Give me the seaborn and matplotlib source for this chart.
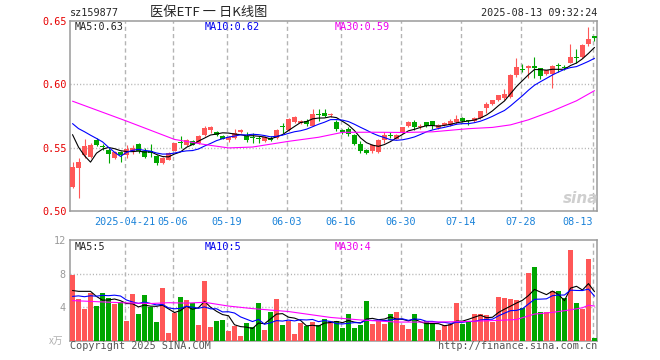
import numpy as np
import pandas as pd
import matplotlib
matplotlib.use('Agg')
import matplotlib.pyplot as plt
import seaborn as sns

# daily candles 2025-04-08 .. 2025-08-13
open_ = [0.5193, 0.5340, 0.5444, 0.5426, 0.5563, 0.5515, 0.5484, 0.5418, 0.5466, 0.5444,
         0.5470, 0.5532, 0.5471, 0.5471, 0.5437, 0.5379, 0.5405, 0.5476, 0.5548, 0.5524,
         0.5550, 0.5537, 0.5600, 0.5643, 0.5624, 0.5590, 0.5560, 0.5577, 0.5621, 0.5590,
         0.5580, 0.5570, 0.5550, 0.5577, 0.5577, 0.5668, 0.5640, 0.5701, 0.5696, 0.5709,
         0.5675, 0.5764, 0.5770, 0.5755, 0.5704, 0.5643, 0.5651, 0.5603, 0.5532, 0.5484,
         0.5476, 0.5463, 0.5563, 0.5597, 0.5569, 0.5621, 0.5669, 0.5701, 0.5665, 0.5701,
         0.5709, 0.5656, 0.5677, 0.5677, 0.5704, 0.5736, 0.5712, 0.5709, 0.5736, 0.5815,
         0.5841, 0.5875, 0.5889, 0.5899, 0.6071, 0.6115, 0.6127, 0.6145, 0.6127, 0.6085,
         0.6079, 0.6147, 0.6135, 0.6172, 0.6214, 0.6212, 0.6317, 0.6383]
high = [0.5390, 0.5418, 0.5569, 0.5537, 0.5575, 0.5530, 0.5497, 0.5470, 0.5475, 0.5520,
        0.5520, 0.5540, 0.5500, 0.5530, 0.5445, 0.5425, 0.5465, 0.5540, 0.5590, 0.5570,
        0.5560, 0.5600, 0.5670, 0.5669, 0.5630, 0.5600, 0.5590, 0.5645, 0.5645, 0.5620,
        0.5617, 0.5590, 0.5590, 0.5590, 0.5650, 0.5696, 0.5735, 0.5750, 0.5720, 0.5730,
        0.5802, 0.5807, 0.5807, 0.5770, 0.5720, 0.5650, 0.5665, 0.5605, 0.5550, 0.5490,
        0.5530, 0.5565, 0.5620, 0.5625, 0.5610, 0.5665, 0.5710, 0.5720, 0.5685, 0.5705,
        0.5712, 0.5690, 0.5700, 0.5725, 0.5755, 0.5740, 0.5715, 0.5745, 0.5790, 0.5860,
        0.5880, 0.5915, 0.5960, 0.6085, 0.6204, 0.6164, 0.6150, 0.6212, 0.6130, 0.6115,
        0.6150, 0.6172, 0.6150, 0.6317, 0.6281, 0.6320, 0.6455, 0.6385]
low = [0.5180, 0.5106, 0.5420, 0.5418, 0.5510, 0.5480, 0.5378, 0.5410, 0.5390, 0.5420,
       0.5450, 0.5460, 0.5420, 0.5430, 0.5360, 0.5370, 0.5400, 0.5470, 0.5498, 0.5515,
       0.5520, 0.5530, 0.5595, 0.5617, 0.5590, 0.5565, 0.5545, 0.5570, 0.5615, 0.5545,
       0.5538, 0.5535, 0.5545, 0.5550, 0.5570, 0.5617, 0.5630, 0.5695, 0.5690, 0.5670,
       0.5670, 0.5709, 0.5745, 0.5740, 0.5630, 0.5610, 0.5595, 0.5520, 0.5455, 0.5450,
       0.5460, 0.5455, 0.5540, 0.5575, 0.5565, 0.5615, 0.5665, 0.5640, 0.5650, 0.5665,
       0.5645, 0.5650, 0.5672, 0.5672, 0.5690, 0.5705, 0.5680, 0.5705, 0.5730, 0.5770,
       0.5835, 0.5870, 0.5880, 0.5895, 0.6060, 0.6094, 0.6053, 0.6053, 0.6042, 0.6075,
       0.5968, 0.6098, 0.6110, 0.6165, 0.6172, 0.6205, 0.6302, 0.6344]
close = [0.5344, 0.5387, 0.5510, 0.5518, 0.5524, 0.5505, 0.5450, 0.5463, 0.5439, 0.5492,
         0.5500, 0.5471, 0.5423, 0.5458, 0.5379, 0.5418, 0.5458, 0.5537, 0.5540, 0.5563,
         0.5524, 0.5595, 0.5656, 0.5661, 0.5603, 0.5571, 0.5585, 0.5617, 0.5637, 0.5558,
         0.5575, 0.5565, 0.5585, 0.5560, 0.5643, 0.5662, 0.5728, 0.5744, 0.5714, 0.5683,
         0.5767, 0.5760, 0.5749, 0.5762, 0.5648, 0.5621, 0.5609, 0.5532, 0.5476, 0.5458,
         0.5524, 0.5563, 0.5603, 0.5593, 0.5603, 0.5661, 0.5706, 0.5661, 0.5670, 0.5669,
         0.5669, 0.5677, 0.5696, 0.5709, 0.5730, 0.5709, 0.5708, 0.5736, 0.5788, 0.5847,
         0.5875, 0.5913, 0.5921, 0.6071, 0.6133, 0.6110, 0.6145, 0.6127, 0.6066, 0.6111,
         0.6145, 0.6143, 0.6131, 0.6212, 0.6210, 0.6312, 0.6357, 0.6365]
# volume in 万手
volume = [7.9, 5.0, 3.8, 5.65, 4.1, 5.7, 5.1, 4.4, 4.65, 2.4,
          5.6, 3.2, 5.5, 4.0, 2.3, 6.3, 1.0, 3.3, 5.2, 4.85,
          4.5, 1.9, 7.15, 1.7, 2.4, 2.55, 1.2, 1.8, 0.6, 2.1,
          1.7, 4.5, 1.35, 3.45, 5.0, 1.95, 2.4, 0.8, 2.1, 1.75,
          2.3, 1.9, 2.6, 2.4, 2.4, 1.6, 3.2, 1.6, 1.9, 4.75,
          2.0, 2.4, 2.0, 3.2, 3.4, 1.9, 1.4, 3.2, 1.4, 2.4,
          2.0, 1.3, 1.95, 2.0, 4.55, 2.0, 2.4, 3.2, 3.2, 3.05,
          2.25, 5.25, 5.15, 5.0, 4.9, 3.9, 8.05, 8.8, 3.4, 3.4,
          6.0, 6.0, 5.15, 10.85, 4.5, 3.8, 9.8, 0.35]

# the 9 sessions before the window, needed for MA5 / MA10 at the left edge
pre_close = [0.578, 0.576, 0.579, 0.578, 0.5775, 0.588, 0.585, 0.577, 0.517]
pre_volume = [4.4, 4.8, 4.5, 4.6, 4.7, 5.5, 3.8, 5.65, 7.15]

# MA30 lines read as points (bar index, value)
ma30_idx = [0, 9, 17, 22, 26, 30, 36, 41, 45, 50, 55, 60, 66, 70, 73, 76, 80, 84, 87]
ma30_price = [0.5867, 0.571, 0.5565, 0.5525, 0.5498, 0.5505, 0.555, 0.5582, 0.5621, 0.5622,
              0.562, 0.5625, 0.565, 0.566, 0.568, 0.572, 0.579, 0.587, 0.595]
vol_ma30_idx = [0, 8, 13, 16, 19, 22, 26, 30, 36, 41, 43, 48, 54, 60, 65, 71, 74, 77, 80, 83, 85, 86, 87]
vol_ma30 = [4.8, 4.55, 4.45, 4.55, 4.5, 4.6, 4.15, 3.85, 3.5, 3.0, 2.8, 2.5, 2.25, 2.25, 2.3,
            2.45, 2.55, 3.2, 3.4, 3.7, 3.95, 4.25, 4.15]

holidays = ['2025-05-01', '2025-05-02', '2025-05-05', '2025-06-02']
tick_dates = ['2025-04-21', '2025-05-06', '2025-05-19', '2025-06-03', '2025-06-16',
              '2025-06-30', '2025-07-14', '2025-07-28', '2025-08-13']
tick_labels = ['2025-04-21', '05-06', '05-19', '06-03', '06-16', '06-30', '07-14', '07-28', '08-13']

RED = '#ff5757'
GREEN = '#00a600'
GRID = '#b4b4b4'

sns.set_style('white')
plt.rcParams['font.family'] = ['DejaVu Sans Mono', 'Noto Sans CJK SC']
plt.rcParams['lines.scale_dashes'] = False

days = pd.bdate_range('2025-04-08', '2025-08-13')
days = days[~days.isin(pd.to_datetime(holidays))]
df = pd.DataFrame({'date': days, 'open': open_, 'high': high, 'low': low,
                   'close': close, 'volume': volume})
df['idx'] = np.arange(len(df))
df['dir'] = np.where(df['close'] >= df['open'], 'up', 'down')
palette = {'up': RED, 'down': GREEN}
colors = df['dir'].map(palette)

n_pre = len(pre_close)
all_close = pd.Series(pre_close + close)
all_vol = pd.Series(pre_volume + volume)
ma5 = all_close.rolling(5).mean().iloc[n_pre:].to_numpy()
ma10 = all_close.rolling(10).mean().iloc[n_pre:].to_numpy()
vma5 = all_vol.rolling(5).mean().iloc[n_pre:].to_numpy()
vma10 = all_vol.rolling(10).mean().iloc[n_pre:].to_numpy()

tick_pos = [df.index[df['date'] == pd.Timestamp(d)][0] - 0.33 for d in tick_dates]

W, H = 660, 360
fig = plt.figure(figsize=(6.6, 3.6), dpi=100)
ax = fig.add_axes([70 / W, 1 - 211 / H, 527 / W, 190 / H])
axv = fig.add_axes([70 / W, 1 - 341 / H, 527 / W, 101 / H])

# price panel
body_lo = df[['open', 'close']].min(axis=1)
body_h = (df['close'] - df['open']).abs().clip(lower=0.0008)
ax.vlines(df['idx'], df['low'], df['high'], colors=colors, lw=0.8, zorder=3)
ax.bar(df['idx'], body_h, bottom=body_lo, width=0.8, color=colors, lw=0, zorder=3)
sns.lineplot(x=df['idx'], y=ma5, color='black', lw=0.8, ax=ax, zorder=4)
sns.lineplot(x=df['idx'], y=ma10, color='#0000ff', lw=0.8, ax=ax, zorder=4)
sns.lineplot(x=ma30_idx, y=ma30_price, color='#ff00ff', lw=0.8, ax=ax, zorder=4)

# volume panel
sns.barplot(data=df, x='idx', y='volume', hue='dir', palette=palette, dodge=False,
            native_scale=True, width=0.83, saturation=1, legend=False, ax=axv,
            linewidth=0, zorder=3)
sns.lineplot(x=df['idx'].to_numpy(), y=vma5, color='black', lw=0.8, ax=axv, zorder=4)
sns.lineplot(x=df['idx'].to_numpy(), y=vma10, color='#0000ff', lw=0.8, ax=axv, zorder=4)
sns.lineplot(x=vol_ma30_idx, y=vol_ma30, color='#ff00ff', lw=0.8, ax=axv, zorder=4)

for a in (ax, axv):
    a.set_xlim(-0.42, 87.42)
    a.set_xlabel('')
    a.set_ylabel('')
    for p in tick_pos:
        a.axvline(p, color=GRID, lw=1, dashes=(3, 2.2), zorder=1)
    for s in a.spines.values():
        s.set_color('#9a9a9a')
        s.set_linewidth(1.1)
    a.tick_params(length=0)

ax.set_ylim(0.50, 0.65)
ax.set_yticks([0.50, 0.55, 0.60, 0.65])
ax.set_yticklabels(['0.50', '0.55', '0.60', '0.65'], color='#e60000', fontsize=7.3)
ax.tick_params(axis='y', pad=2.5)
for y in (0.55, 0.60):
    ax.axhline(y, color=GRID, lw=1, dashes=(0.8, 1.5), zorder=1)
ax.set_xticks(tick_pos)
ax.set_xticklabels(tick_labels, color='#1a82d9', fontsize=7.3)
ax.tick_params(axis='x', pad=4)
ax.get_xticklabels()[-1].set_ha('right')

axv.set_ylim(0, 12)
axv.set_yticks([4, 8, 12])
axv.set_yticklabels(['4', '8', '12'], color='#9a9a9a', fontsize=7.3)
axv.tick_params(axis='y', pad=3)
axv.set_xticks(tick_pos)
axv.set_xticklabels([])
for y in (4, 8):
    axv.axhline(y, color=GRID, lw=1, dashes=(0.8, 1.5), zorder=1)


def px(x, y, s, size=7.3, **kw):
    fig.text(x / W, 1 - y / H, s, va='center', fontsize=size, **kw)


px(70, 13, 'sz159877')
px(209, 12.5, '医保ETF 一 日K线图', ha='center', size=9.5, family=['Noto Sans CJK SC'])
px(597, 13, '2025-08-13 09:32:24', ha='right')
px(75, 26.5, f'MA5:{ma5[-1]:.2f}')
px(205, 26.5, f'MA10:{ma10[-1]:.2f}', color='#0000ee')
px(335, 26.5, f'MA30:{ma30_price[-1]:.2f}', color='#ee00ee')
px(75, 247, f'MA5:{int(vma5[-1])}')
px(205, 247, f'MA10:{int(vma10[-1])}', color='#0000ee')
px(335, 247, f'MA30:{int(vol_ma30[-1])}', color='#ee00ee')
px(70, 346, 'Copyright 2025 SINA.COM', color='#555555')
px(597, 346, 'http://finance.sina.com.cn', ha='right', color='#555555')
px(63, 340.5, 'x万', ha='right', color='#b0b0b0', size=7, family=['Noto Sans CJK SC'])
px(581, 198, 'sina', ha='center', color='#cfcfcf', size=11, weight='bold',
   style='italic', family=['DejaVu Sans'])

fig.savefig('out.png', dpi=100)
